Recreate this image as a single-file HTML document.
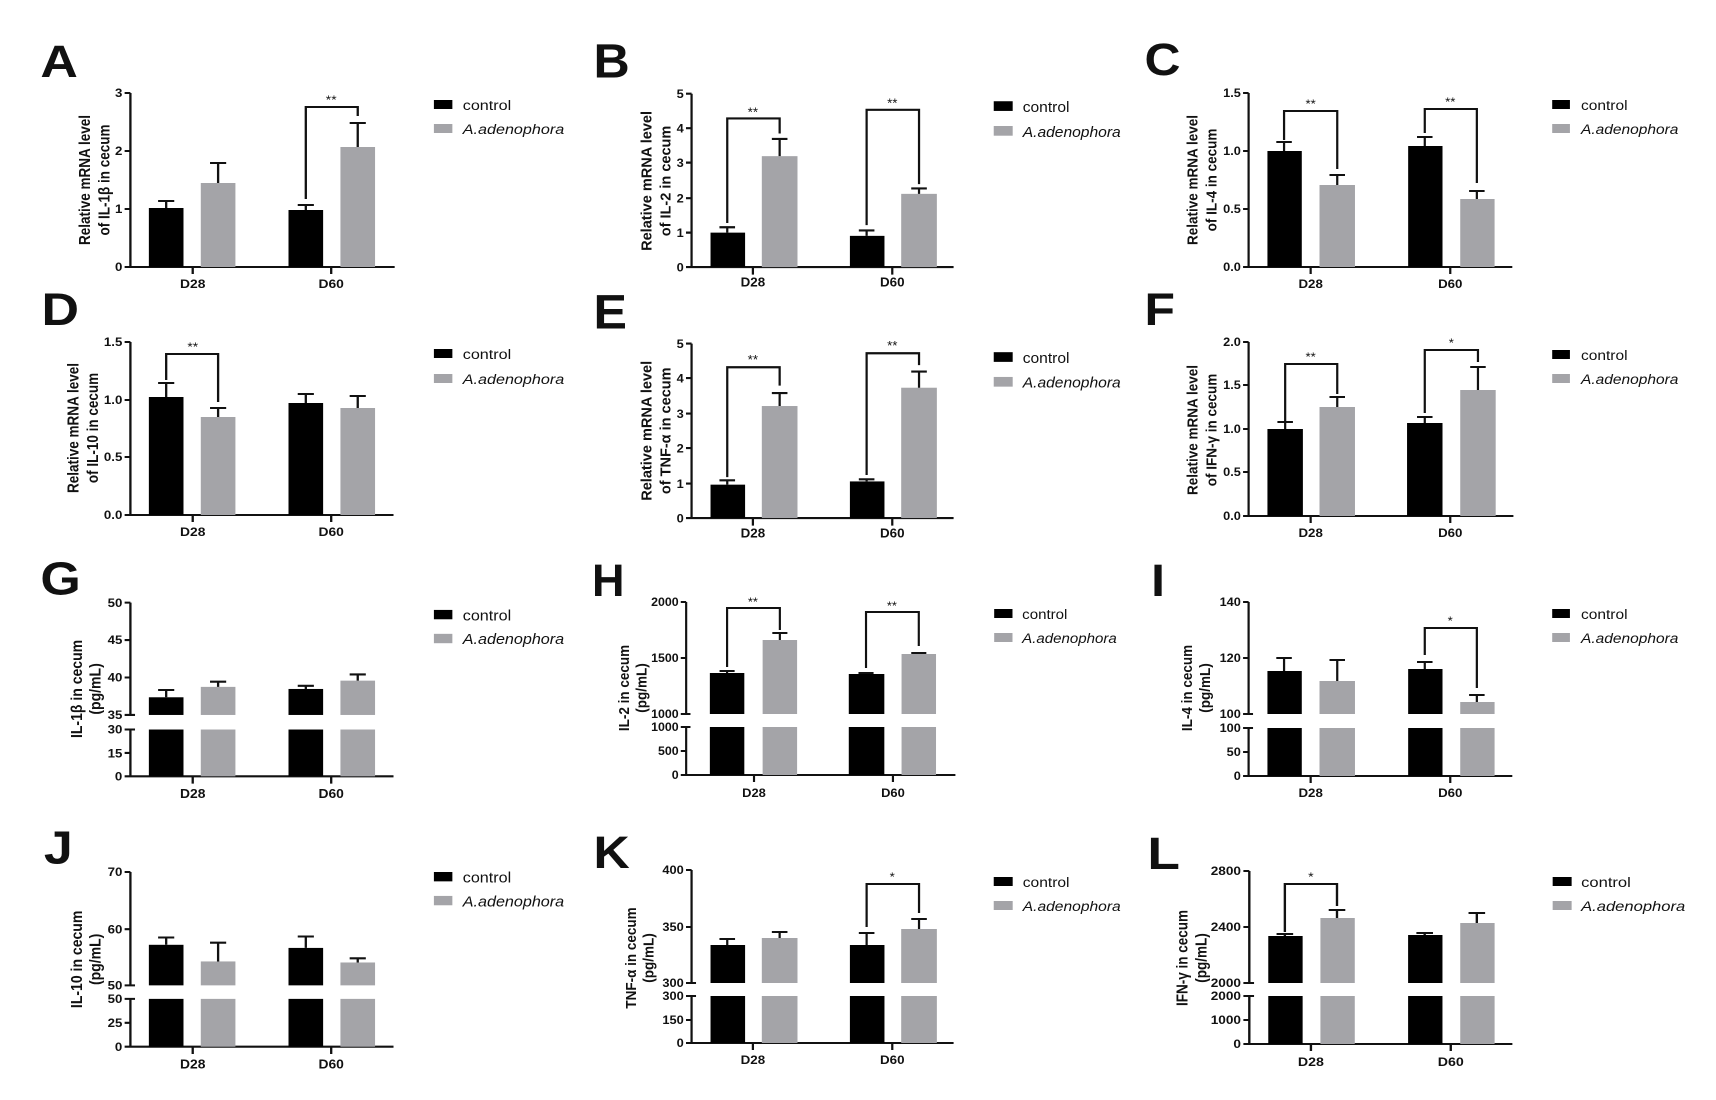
<!DOCTYPE html>
<html><head><meta charset="utf-8">
<style>
html,body{margin:0;padding:0;background:#fff;}
svg{display:block;}
text{font-family:"Liberation Sans",Arial,sans-serif;fill:#111;}
.t{font-size:11.5px;font-weight:bold;text-anchor:end;}
.x{font-size:12px;font-weight:bold;text-anchor:middle;}
.y{font-size:13.5px;font-weight:bold;text-anchor:middle;}
.L{font-size:45px;font-weight:bold;}
.lg{font-size:14px;}
.it{font-style:italic;}
.s{font-size:12px;text-anchor:middle;}
.ax{stroke:#111;stroke-width:2;fill:none;}
.e{stroke:#111;stroke-width:2;fill:none;}
.k{fill:#000;}
.g{fill:#a4a4a8;}
</style></head>
<body>
<svg width="1716" height="1100" viewBox="0 0 1716 1100" xmlns="http://www.w3.org/2000/svg">

<text class="L" x="592" y="596">H</text>

<!-- ===== A ===== -->
<g transform="matrix(1.154,0,0,1,0,0)">
<text class="L" x="35" y="77">A</text>
<path class="ax" d="M113,93 V267 H342 M108,93 H113 M108,209 H113 M108,151 H113 M108,267 H113 M167,267 V274 M287,267 V274"/>
<text class="t" x="106" y="97">3</text><text class="t" x="106" y="155">2</text><text class="t" x="106" y="213">1</text><text class="t" x="106" y="271">0</text>
<rect class="k" x="129" y="208" width="30" height="59"/><rect class="g" x="174" y="183" width="30" height="84"/>
<rect class="k" x="250" y="210" width="30" height="57"/><rect class="g" x="295" y="147" width="30" height="120"/>
<path class="e" d="M144,208 V201 M137,201 H151 M189,183 V163 M182,163 H196 M265,210 V205 M258,205 H272 M310,147 V123 M303,123 H317"/>
<path class="e" d="M265,199 V107 H310 V116"/><text class="s" x="287" y="104">**</text>
<text class="x" x="167" y="288">D28</text><text class="x" x="287" y="288">D60</text>
<text class="y" transform="translate(78,180) rotate(-90)">Relative mRNA level</text>
<text class="y" transform="translate(95,180) rotate(-90)">of IL-1β in cecum</text>
<rect class="k" x="376" y="100" width="16" height="9"/><text class="lg" x="401" y="110">control</text>
<rect class="g" x="376" y="124" width="16" height="9"/><text class="lg it" x="401" y="134">A.adenophora</text>
</g>

<!-- ===== B ===== -->
<g transform="matrix(1.115,0,0,1.077,-64.4,0)">
<text class="L" x="590" y="72">B</text>
<path class="ax" d="M678,87 V248 H913 M673,87 H678 M673,119 H678 M673,151 H678 M673,184 H678 M673,216 H678 M673,248 H678 M733,248 V255 M858,248 V255"/>
<text class="t" x="671" y="91">5</text><text class="t" x="671" y="123">4</text><text class="t" x="671" y="155">3</text><text class="t" x="671" y="188">2</text><text class="t" x="671" y="220">1</text><text class="t" x="671" y="252">0</text>
<rect class="k" x="695" y="216" width="31" height="32"/><rect class="g" x="741" y="145" width="32" height="103"/>
<rect class="k" x="820" y="219" width="31" height="29"/><rect class="g" x="866" y="180" width="32" height="68"/>
<path class="e" d="M710,216 V211 M703,211 H717 M757,145 V129 M750,129 H764 M835,219 V214 M828,214 H842 M882,180 V175 M875,175 H889"/>
<path class="e" d="M710,207 V110 H757 V124"/><text class="s" x="733" y="108">**</text>
<path class="e" d="M835,209 V102 H882 V171"/><text class="s" x="858" y="100">**</text>
<text class="x" x="733" y="266">D28</text><text class="x" x="858" y="266">D60</text>
<text class="y" transform="translate(642,168) rotate(-90)">Relative mRNA level</text>
<text class="y" transform="translate(659,168) rotate(-90)">of IL-2 in cecum</text>
<rect class="k" x="949" y="94" width="17" height="9"/><text class="lg" x="975" y="104">control</text>
<rect class="g" x="949" y="117" width="17" height="9"/><text class="lg it" x="975" y="127">A.adenophora</text>
</g>

<!-- ===== C ===== -->
<g transform="matrix(1.108,0,0,1,-123.1,0)">
<text class="L" x="1144" y="75">C</text>
<path class="ax" d="M1238,93 V267 H1476 M1233,93 H1238 M1233,151 H1238 M1233,209 H1238 M1233,267 H1238 M1294,267 V274 M1420,267 V274"/>
<text class="t" x="1231" y="97">1.5</text><text class="t" x="1231" y="155">1.0</text><text class="t" x="1231" y="213">0.5</text><text class="t" x="1231" y="271">0.0</text>
<rect class="k" x="1255" y="151" width="31" height="116"/><rect class="g" x="1302" y="185" width="32" height="82"/>
<rect class="k" x="1382" y="146" width="31" height="121"/><rect class="g" x="1429" y="199" width="31" height="68"/>
<path class="e" d="M1270,151 V142 M1263,142 H1277 M1318,185 V175 M1311,175 H1325 M1397,146 V137 M1390,137 H1404 M1444,199 V191 M1437,191 H1451"/>
<path class="e" d="M1270,140 V111 H1318 V169"/><text class="s" x="1294" y="108">**</text>
<path class="e" d="M1397,133 V109 H1444 V183"/><text class="s" x="1420" y="106">**</text>
<text class="x" x="1294" y="288">D28</text><text class="x" x="1420" y="288">D60</text>
<text class="y" transform="translate(1192,180) rotate(-90)">Relative mRNA level</text>
<text class="y" transform="translate(1209,180) rotate(-90)">of IL-4 in cecum</text>
<rect class="k" x="1512" y="100" width="16" height="9"/><text class="lg" x="1538" y="110">control</text>
<rect class="g" x="1512" y="124" width="16" height="9"/><text class="lg it" x="1538" y="134">A.adenophora</text>
</g>

<!-- ===== D ===== -->
<g transform="matrix(1.154,0,0,1,0,0)">
<text class="L" x="36" y="325">D</text>
<path class="ax" d="M113,342 V515 H341 M108,342 H113 M108,400 H113 M108,457 H113 M108,515 H113 M167,515 V522 M287,515 V522"/>
<text class="t" x="106" y="346">1.5</text><text class="t" x="106" y="404">1.0</text><text class="t" x="106" y="461">0.5</text><text class="t" x="106" y="519">0.0</text>
<rect class="k" x="129" y="397" width="30" height="118"/><rect class="g" x="174" y="417" width="30" height="98"/>
<rect class="k" x="250" y="403" width="30" height="112"/><rect class="g" x="295" y="408" width="30" height="107"/>
<path class="e" d="M144,397 V383 M137,383 H151 M189,417 V408 M182,408 H196 M265,403 V394 M258,394 H272 M310,408 V396 M303,396 H317"/>
<path class="e" d="M144,380 V354 H189 V402"/><text class="s" x="167" y="351">**</text>
<text class="x" x="167" y="536">D28</text><text class="x" x="287" y="536">D60</text>
<text class="y" transform="translate(68,428) rotate(-90)">Relative mRNA level</text>
<text class="y" transform="translate(85,428) rotate(-90)">of IL-10 in cecum</text>
<rect class="k" x="376" y="349" width="16" height="9"/><text class="lg" x="401" y="359">control</text>
<rect class="g" x="376" y="374" width="16" height="9"/><text class="lg it" x="401" y="384">A.adenophora</text>
</g>

<!-- ===== E ===== -->
<g transform="matrix(1.115,0,0,1.077,-64.4,0)">
<text class="L" x="590" y="305">E</text>
<path class="ax" d="M678,319 V481 H913 M673,319 H678 M673,351 H678 M673,384 H678 M673,416 H678 M673,449 H678 M673,481 H678 M733,481 V488 M858,481 V488"/>
<text class="t" x="671" y="323">5</text><text class="t" x="671" y="355">4</text><text class="t" x="671" y="388">3</text><text class="t" x="671" y="420">2</text><text class="t" x="671" y="453">1</text><text class="t" x="671" y="485">0</text>
<rect class="k" x="695" y="450" width="31" height="31"/><rect class="g" x="741" y="377" width="32" height="104"/>
<rect class="k" x="820" y="447" width="31" height="34"/><rect class="g" x="866" y="360" width="32" height="121"/>
<path class="e" d="M710,450 V446 M703,446 H717 M757,377 V365 M750,365 H764 M835,447 V445 M828,445 H842 M882,360 V345 M875,345 H889"/>
<path class="e" d="M710,443 V341 H757 V358"/><text class="s" x="733" y="338">**</text>
<path class="e" d="M835,441 V328 H882 V339"/><text class="s" x="858" y="325">**</text>
<text class="x" x="733" y="499">D28</text><text class="x" x="858" y="499">D60</text>
<text class="y" transform="translate(642,400) rotate(-90)">Relative mRNA level</text>
<text class="y" transform="translate(659,400) rotate(-90)">of TNF-α in cecum</text>
<rect class="k" x="949" y="327" width="17" height="9"/><text class="lg" x="975" y="337">control</text>
<rect class="g" x="949" y="350" width="17" height="9"/><text class="lg it" x="975" y="360">A.adenophora</text>
</g>

<!-- ===== F ===== -->
<g transform="matrix(1.108,0,0,1,-123.1,0)">
<text class="L" x="1144" y="325">F</text>
<path class="ax" d="M1238,342 V516 H1477 M1233,342 H1238 M1233,385 H1238 M1233,429 H1238 M1233,472 H1238 M1233,516 H1238 M1294,516 V523 M1420,516 V523"/>
<text class="t" x="1231" y="346">2.0</text><text class="t" x="1231" y="389">1.5</text><text class="t" x="1231" y="433">1.0</text><text class="t" x="1231" y="476">0.5</text><text class="t" x="1231" y="520">0.0</text>
<rect class="k" x="1255" y="429" width="32" height="87"/><rect class="g" x="1302" y="407" width="32" height="109"/>
<rect class="k" x="1381" y="423" width="32" height="93"/><rect class="g" x="1429" y="390" width="32" height="126"/>
<path class="e" d="M1271,429 V422 M1264,422 H1278 M1318,407 V397 M1311,397 H1325 M1397,423 V417 M1390,417 H1404 M1445,390 V367 M1438,367 H1452"/>
<path class="e" d="M1271,421 V364 H1318 V394"/><text class="s" x="1294" y="361">**</text>
<path class="e" d="M1397,413 V350 H1445 V362"/><text class="s" x="1421" y="347">*</text>
<text class="x" x="1294" y="537">D28</text><text class="x" x="1420" y="537">D60</text>
<text class="y" transform="translate(1192,430) rotate(-90)">Relative mRNA level</text>
<text class="y" transform="translate(1209,430) rotate(-90)">of IFN-γ in cecum</text>
<rect class="k" x="1512" y="350" width="16" height="9"/><text class="lg" x="1538" y="360">control</text>
<rect class="g" x="1512" y="374" width="16" height="9"/><text class="lg it" x="1538" y="384">A.adenophora</text>
</g>

<!-- ===== G ===== -->
<g transform="matrix(1.154,0,0,1.04,0,-22.4)">
<text class="L" x="35" y="593">G</text>
<path class="ax" d="M113,601 V709 H117 M117,723 H113 V768 H341 M108,601 H113 M108,637 H113 M108,673 H113 M108,709 H113 M108,723 H113 M108,745.5 H113 M108,768 H113 M167,768 V775 M287,768 V775"/>
<text class="t" x="106" y="605">50</text><text class="t" x="106" y="641">45</text><text class="t" x="106" y="677">40</text><text class="t" x="106" y="713">35</text><text class="t" x="106" y="727">30</text><text class="t" x="106" y="750">15</text><text class="t" x="106" y="772">0</text>
<rect class="k" x="129" y="692" width="30" height="17"/><rect class="k" x="129" y="723" width="30" height="45"/>
<rect class="g" x="174" y="682" width="30" height="27"/><rect class="g" x="174" y="723" width="30" height="45"/>
<rect class="k" x="250" y="684" width="30" height="25"/><rect class="k" x="250" y="723" width="30" height="45"/>
<rect class="g" x="295" y="676" width="30" height="33"/><rect class="g" x="295" y="723" width="30" height="45"/>
<path class="e" d="M144,692 V685 M137,685 H151 M189,682 V677 M182,677 H196 M265,684 V681 M258,681 H272 M310,676 V670 M303,670 H317"/>
<text class="x" x="167" y="789">D28</text><text class="x" x="287" y="789">D60</text>
<text class="y" transform="translate(71,684) rotate(-90)">IL-1β in cecum</text>
<text class="y" transform="translate(87,684) rotate(-90)">(pg/mL)</text>
<rect class="k" x="376" y="608" width="16" height="9"/><text class="lg" x="401" y="618">control</text>
<rect class="g" x="376" y="631" width="16" height="9"/><text class="lg it" x="401" y="641">A.adenophora</text>
</g>

<!-- ===== H ===== -->
<g transform="matrix(1.077,0,0,1,-46.2,0)">
<path class="ax" d="M680,602 V714 H684 M684,727 H680 V775 H930 M675,602 H680 M675,658 H680 M675,714 H680 M675,727 H680 M675,751 H680 M675,775 H680 M743,775 V782 M872,775 V782"/>
<text class="t" x="673" y="606">2000</text><text class="t" x="673" y="662">1500</text><text class="t" x="673" y="718">1000</text><text class="t" x="673" y="731">1000</text><text class="t" x="673" y="755">500</text><text class="t" x="673" y="779">0</text>
<rect class="k" x="702" y="673" width="32" height="41"/><rect class="k" x="702" y="727" width="32" height="48"/>
<rect class="g" x="751" y="640" width="32" height="74"/><rect class="g" x="751" y="727" width="32" height="48"/>
<rect class="k" x="831" y="674" width="33" height="40"/><rect class="k" x="831" y="727" width="33" height="48"/>
<rect class="g" x="880" y="654" width="32" height="60"/><rect class="g" x="880" y="727" width="32" height="48"/>
<path class="e" d="M718,673 V671 M711,671 H725 M767,640 V633 M760,633 H774 M847,674 V673 M840,673 H854 M896,654 V653 M889,653 H903"/>
<path class="e" d="M718,667 V608 H767 V630"/><text class="s" x="742" y="606">**</text>
<path class="e" d="M847,668 V612 H896 V646"/><text class="s" x="871" y="610">**</text>
<text class="x" x="743" y="797">D28</text><text class="x" x="872" y="797">D60</text>
<text class="y" transform="translate(627,688) rotate(-90)">IL-2 in cecum</text>
<text class="y" transform="translate(643,688) rotate(-90)">(pg/mL)</text>
<rect class="k" x="966" y="609" width="17" height="9"/><text class="lg" x="992" y="619">control</text>
<rect class="g" x="966" y="633" width="17" height="9"/><text class="lg it" x="992" y="643">A.adenophora</text>
</g>

<!-- ===== I ===== -->
<g transform="matrix(1.108,0,0,1,-123.1,0)">
<text class="L" x="1150" y="596">I</text>
<path class="ax" d="M1238,602 V714 H1242 M1242,728 H1238 V776 H1476 M1233,602 H1238 M1233,658 H1238 M1233,714 H1238 M1233,728 H1238 M1233,752 H1238 M1233,776 H1238 M1294,776 V783 M1420,776 V783"/>
<text class="t" x="1231" y="606">140</text><text class="t" x="1231" y="662">120</text><text class="t" x="1231" y="718">100</text><text class="t" x="1231" y="732">100</text><text class="t" x="1231" y="756">50</text><text class="t" x="1231" y="780">0</text>
<rect class="k" x="1255" y="671" width="31" height="43"/><rect class="k" x="1255" y="728" width="31" height="48"/>
<rect class="g" x="1302" y="681" width="32" height="33"/><rect class="g" x="1302" y="728" width="32" height="48"/>
<rect class="k" x="1382" y="669" width="31" height="45"/><rect class="k" x="1382" y="728" width="31" height="48"/>
<rect class="g" x="1429" y="702" width="31" height="12"/><rect class="g" x="1429" y="728" width="31" height="48"/>
<path class="e" d="M1270,671 V658 M1263,658 H1277 M1318,681 V660 M1311,660 H1325 M1397,669 V662 M1390,662 H1404 M1444,702 V695 M1437,695 H1451"/>
<path class="e" d="M1397,655 V628 H1444 V688"/><text class="s" x="1420" y="625">*</text>
<text class="x" x="1294" y="797">D28</text><text class="x" x="1420" y="797">D60</text>
<text class="y" transform="translate(1187,688) rotate(-90)">IL-4 in cecum</text>
<text class="y" transform="translate(1203,688) rotate(-90)">(pg/mL)</text>
<rect class="k" x="1512" y="609" width="16" height="9"/><text class="lg" x="1538" y="619">control</text>
<rect class="g" x="1512" y="633" width="16" height="9"/><text class="lg it" x="1538" y="643">A.adenophora</text>
</g>

<!-- ===== J ===== -->
<g transform="matrix(1.154,0,0,1.04,0,-22.4)">
<text class="L" x="38" y="852">J</text>
<path class="ax" d="M113,860 V969 H117 M117,982 H113 V1028 H341 M108,860 H113 M108,915 H113 M108,969 H113 M108,982 H113 M108,1005 H113 M108,1028 H113 M167,1028 V1035 M287,1028 V1035"/>
<text class="t" x="106" y="864">70</text><text class="t" x="106" y="919">60</text><text class="t" x="106" y="973">50</text><text class="t" x="106" y="986">50</text><text class="t" x="106" y="1009">25</text><text class="t" x="106" y="1032">0</text>
<rect class="k" x="129" y="930" width="30" height="39"/><rect class="k" x="129" y="982" width="30" height="46"/>
<rect class="g" x="174" y="946" width="30" height="23"/><rect class="g" x="174" y="982" width="30" height="46"/>
<rect class="k" x="250" y="933" width="30" height="36"/><rect class="k" x="250" y="982" width="30" height="46"/>
<rect class="g" x="295" y="947" width="30" height="22"/><rect class="g" x="295" y="982" width="30" height="46"/>
<path class="e" d="M144,930 V923 M137,923 H151 M189,946 V928 M182,928 H196 M265,933 V922 M258,922 H272 M310,947 V943 M303,943 H317"/>
<text class="x" x="167" y="1049">D28</text><text class="x" x="287" y="1049">D60</text>
<text class="y" transform="translate(71,944) rotate(-90)">IL-10 in cecum</text>
<text class="y" transform="translate(87,944) rotate(-90)">(pg/mL)</text>
<rect class="k" x="376" y="860" width="16" height="9"/><text class="lg" x="401" y="870">control</text>
<rect class="g" x="376" y="883" width="16" height="9"/><text class="lg it" x="401" y="893">A.adenophora</text>
</g>

<!-- ===== K ===== -->
<g transform="matrix(1.115,0,0,1,-64.4,0)">
<text class="L" x="590" y="868">K</text>
<path class="ax" d="M678,870 V983 H682 M682,996 H678 V1043 H913 M673,870 H678 M673,927 H678 M673,983 H678 M673,996 H678 M673,1020 H678 M673,1043 H678 M733,1043 V1050 M858,1043 V1050"/>
<text class="t" x="671" y="874">400</text><text class="t" x="671" y="931">350</text><text class="t" x="671" y="987">300</text><text class="t" x="671" y="1000">300</text><text class="t" x="671" y="1024">150</text><text class="t" x="671" y="1047">0</text>
<rect class="k" x="695" y="945" width="31" height="38"/><rect class="k" x="695" y="996" width="31" height="47"/>
<rect class="g" x="741" y="938" width="32" height="45"/><rect class="g" x="741" y="996" width="32" height="47"/>
<rect class="k" x="820" y="945" width="31" height="38"/><rect class="k" x="820" y="996" width="31" height="47"/>
<rect class="g" x="866" y="929" width="32" height="54"/><rect class="g" x="866" y="996" width="32" height="47"/>
<path class="e" d="M710,945 V939 M703,939 H717 M757,938 V932 M750,932 H764 M835,945 V933 M828,933 H842 M882,929 V919 M875,919 H889"/>
<path class="e" d="M835,927 V884 H882 V913"/><text class="s" x="858" y="881">*</text>
<text class="x" x="733" y="1064">D28</text><text class="x" x="858" y="1064">D60</text>
<text class="y" transform="translate(628,958) rotate(-90)">TNF-α in cecum</text>
<text class="y" transform="translate(644,958) rotate(-90)">(pg/mL)</text>
<rect class="k" x="949" y="877" width="17" height="9"/><text class="lg" x="975" y="887">control</text>
<rect class="g" x="949" y="901" width="17" height="9"/><text class="lg it" x="975" y="911">A.adenophora</text>
</g>

<!-- ===== L ===== -->
<g transform="matrix(1.185,0,0,1,-203.5,0)">
<text class="L" x="1140" y="869">L</text>
<path class="ax" d="M1226,871 V983 H1230 M1230,996 H1226 V1044 H1448 M1221,871 H1226 M1221,927 H1226 M1221,983 H1226 M1221,996 H1226 M1221,1020 H1226 M1221,1044 H1226 M1278,1044 V1051 M1396,1044 V1051"/>
<text class="t" x="1219" y="875">2800</text><text class="t" x="1219" y="931">2400</text><text class="t" x="1219" y="987">2000</text><text class="t" x="1219" y="1000">2000</text><text class="t" x="1219" y="1024">1000</text><text class="t" x="1219" y="1048">0</text>
<rect class="k" x="1242" y="936" width="29" height="47"/><rect class="k" x="1242" y="996" width="29" height="48"/>
<rect class="g" x="1286" y="918" width="29" height="65"/><rect class="g" x="1286" y="996" width="29" height="48"/>
<rect class="k" x="1360" y="935" width="29" height="48"/><rect class="k" x="1360" y="996" width="29" height="48"/>
<rect class="g" x="1404" y="923" width="29" height="60"/><rect class="g" x="1404" y="996" width="29" height="48"/>
<path class="e" d="M1256,936 V934 M1249,934 H1263 M1300,918 V910 M1293,910 H1307 M1374,935 V933 M1367,933 H1381 M1418,923 V913 M1411,913 H1425"/>
<path class="e" d="M1256,932 V884 H1300 V906"/><text class="s" x="1278" y="881">*</text>
<text class="x" x="1278" y="1066">D28</text><text class="x" x="1396" y="1066">D60</text>
<text class="y" transform="translate(1174,958) rotate(-90)">IFN-γ in cecum</text>
<text class="y" transform="translate(1190,958) rotate(-90)">(pg/mL)</text>
<rect class="k" x="1482" y="877" width="16" height="9"/><text class="lg" x="1506" y="887">control</text>
<rect class="g" x="1482" y="901" width="16" height="9"/><text class="lg it" x="1506" y="911">A.adenophora</text>
</g>

</svg>
</body></html>
